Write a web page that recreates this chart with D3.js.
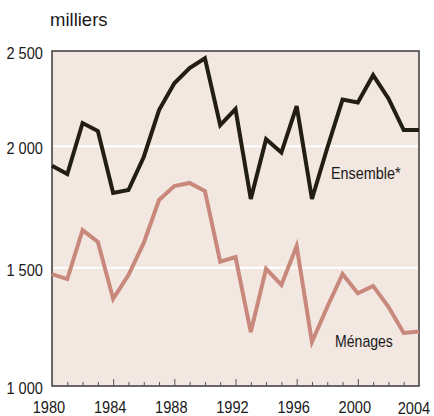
<!DOCTYPE html>
<html lang="fr">
<head>
    <meta charset="UTF-8">
    <title>Ensemble et ménages, milliers</title>
    <script src="https://cdnjs.cloudflare.com/ajax/libs/d3/7.8.5/d3.min.js"></script>
    <style>
        body { margin: 0; background: #ffffff; }
        text { font-family: "Liberation Sans", Arial, sans-serif; fill: #1a1a1a; }
        .frame { fill: #f3e7e1; stroke: #3a3a3a; stroke-width: 1.5; }
        .grid { stroke: #ffffff; stroke-width: 2; }
        .line { fill: none; stroke-width: 4; stroke-linejoin: miter; }
    </style>
</head>
<body>
<div id="chart"></div>
<script>
    const years = d3.range(1980, 2005);
    const ensemble = [1920, 1886, 2122, 2080, 1808, 1820, 1956, 2190, 2331, 2410, 2462, 2111, 2195,
                      1783, 2037, 1974, 2211, 1783, 1993, 2245, 2230, 2373, 2251, 2085, 2085];
    const menages = [1473, 1452, 1655, 1606, 1368, 1469, 1602, 1779, 1836, 1849, 1816, 1525, 1544,
                     1228, 1495, 1427, 1589, 1186, 1334, 1473, 1392, 1423, 1335, 1224, 1230];
    const yTicks = [1000, 1500, 2000, 2500];
    const xLabels = [1980, 1984, 1988, 1992, 1996, 2000, 2004];

    const width = 434, height = 416;
    const plotLeft = 52, plotRight = 419, plotTop = 51, plotBottom = 386;
    const squeeze = 0.86; // condensed look of the printed labels

    const svg = d3.select("#chart").append("svg")
        .attr("width", width)
        .attr("height", height);

    const x = d3.scaleLinear().domain([1980, 2004]).range([plotLeft, plotRight]);
    // the printed axis is not evenly spaced, so map each tick to where it sits
    const y = d3.scaleLinear().domain(yTicks).range([plotBottom, 267.7, 146.3, plotTop]);

    svg.append("rect")
        .attr("class", "frame")
        .attr("x", plotLeft).attr("y", plotTop)
        .attr("width", plotRight - plotLeft).attr("height", plotBottom - plotTop);

    // white grid lines
    svg.selectAll(".grid")
        .data([1500, 2000])
        .enter().append("line")
        .attr("class", "grid")
        .attr("x1", plotLeft + 1).attr("x2", plotRight - 1)
        .attr("y1", d => y(d)).attr("y2", d => y(d));

    // year ticks, inside the frame
    const xAxis = d3.axisTop(x)
        .tickValues(years.slice(1, -1))
        .tickSize(0)
        .tickFormat("");
    const gx = svg.append("g")
        .attr("transform", `translate(0,${plotBottom})`)
        .call(xAxis);
    gx.select(".domain").remove();
    gx.selectAll(".tick line")
        .attr("stroke", "#555")
        .attr("stroke-width", 1)
        .attr("y2", d => d % 4 === 0 ? -7 : -4);

    svg.selectAll(".xlabel")
        .data(xLabels)
        .enter().append("text")
        .attr("transform", d => `translate(${x(d) - (d === 2004 ? 5 : 3)},${d === 2004 ? 414 : 413}) scale(${squeeze},1)`)
        .attr("text-anchor", "middle")
        .attr("font-size", 17)
        .text(d => d);

    svg.selectAll(".ylabel")
        .data(yTicks)
        .enter().append("text")
        .attr("transform", d => `translate(43,${y(d) + 8}) scale(${squeeze},1)`)
        .attr("text-anchor", "end")
        .attr("font-size", 17)
        .text(d => d3.format(",")(d).replace(",", " "));

    svg.append("text")
        .attr("x", 50).attr("y", 26)
        .attr("font-size", 18.5)
        .text("milliers");

    const line = d3.line()
        .x((d, i) => x(years[i]))
        .y(d => y(d));

    svg.append("path")
        .datum(menages)
        .attr("class", "line")
        .attr("stroke", "#c8887c")
        .attr("d", line);

    svg.append("path")
        .datum(ensemble)
        .attr("class", "line")
        .attr("stroke", "#221e12")
        .attr("d", line);

    svg.append("text")
        .attr("transform", `translate(331,179) scale(0.9,1)`)
        .attr("font-size", 16)
        .text("Ensemble*");

    svg.append("text")
        .attr("transform", `translate(335,347) scale(0.88,1)`)
        .attr("font-size", 16)
        .text("Ménages");
</script>
</body>
</html>
